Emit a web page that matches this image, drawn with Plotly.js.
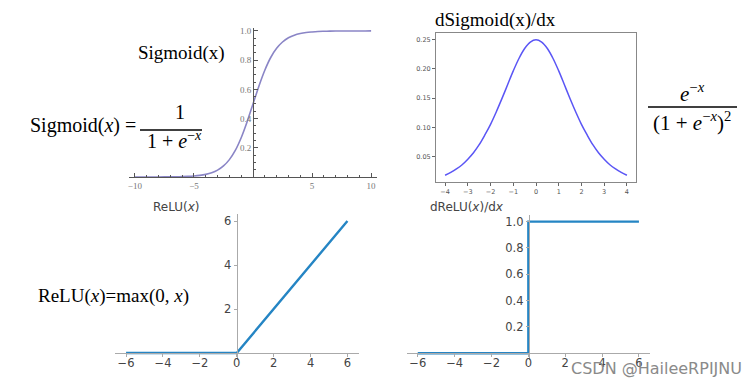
<!DOCTYPE html>
<html>
<head>
<meta charset="utf-8">
<script src="https://cdn.plot.ly/plotly-3.0.1.min.js"></script>
<style>html,body{margin:0;padding:0;background:#fff}#chart{width:756px;height:385px}</style>
</head>
<body>
<div id="chart"></div>
<script>
// Sigmoid(x) values
const sigX = [-10,-9.5,-9,-8.5,-8,-7.5,-7,-6.5,-6,-5.5,-5,-4.5,-4,-3.5,-3,-2.5,-2,-1.5,-1,-0.5,0,0.5,1,1.5,2,2.5,3,3.5,4,4.5,5,5.5,6,6.5,7,7.5,8,8.5,9,9.5,10];
const sigY = [0.00005,0.00007,0.00012,0.0002,0.00034,0.00055,0.0009,0.0015,0.0025,0.0041,0.0067,0.011,0.018,0.029,0.047,0.076,0.119,0.182,0.269,0.378,0.5,0.622,0.731,0.818,0.881,0.924,0.953,0.971,0.982,0.989,0.993,0.996,0.9975,0.9985,0.9991,0.9994,0.9997,0.9998,0.9999,0.9999,1.0];
// dSigmoid(x)/dx values
const dsigX = [-4,-3.75,-3.5,-3.25,-3,-2.75,-2.5,-2.25,-2,-1.75,-1.5,-1.25,-1,-0.75,-0.5,-0.25,0,0.25,0.5,0.75,1,1.25,1.5,1.75,2,2.25,2.5,2.75,3,3.25,3.5,3.75,4];
const dsigY = [0.0177,0.0226,0.0285,0.0357,0.0452,0.0563,0.0701,0.0868,0.105,0.1262,0.149,0.1728,0.1966,0.2179,0.235,0.2461,0.25,0.2461,0.235,0.2179,0.1966,0.1728,0.149,0.1262,0.105,0.0868,0.0701,0.0563,0.0452,0.0357,0.0285,0.0226,0.0177];
// ReLU(x)
const reluX = [-6,0,6];
const reluY = [0,0,6];
// dReLU(x)/dx
const dreluX = [-6,0,0,6];
const dreluY = [0,0,1,1];
// tick labels
const sigXTicks = [-10,-5,5,10];
const sigXText = ['\u221210','\u22125','5','10'];
const sigYTicks = [0.2,0.4,0.6,0.8,1.0];
const sigYText = ['0.2','0.4','0.6','0.8','1.0'];
const dsigXTicks = [-4,-3,-2,-1,0,1,2,3,4];
const dsigYTicks = [0.05,0.10,0.15,0.20,0.25];
const reluXTicks = [-6,-4,-2,0,2,4,6];
const reluYTicks = [2,4,6];
const dreluYTicks = [0.2,0.4,0.6,0.8,1.0];

const W = 756, H = 385;
const px = v => v / W;
const py = v => 1 - v / H;

const traces = [
  {x: sigX, y: sigY, xaxis: 'x', yaxis: 'y', mode: 'lines', line: {color: '#8a85c6', width: 1.6, shape: 'spline'}},
  {x: dsigX, y: dsigY, xaxis: 'x2', yaxis: 'y2', mode: 'lines', line: {color: '#5a55f5', width: 1.5, shape: 'spline'}},
  {x: reluX, y: reluY, xaxis: 'x3', yaxis: 'y3', mode: 'lines', line: {color: '#2585c4', width: 2.4}},
  {x: dreluX, y: dreluY, xaxis: 'x4', yaxis: 'y4', mode: 'lines', line: {color: '#2585c4', width: 2.4}}
];

const mmaFont = {family: 'Liberation Serif, serif', size: 9, color: '#777'};
const mplSmall = {family: 'DejaVu Sans, sans-serif', size: 6.5, color: '#555'};
const mplFont = {family: 'DejaVu Sans, sans-serif', size: 11.5, color: '#444'};
const serif = 'Liberation Serif, Times New Roman, serif';

const layout = {
  width: W, height: H,
  margin: {l: 0, r: 0, t: 0, b: 0},
  paper_bgcolor: '#fff', plot_bgcolor: 'rgba(0,0,0,0)',
  showlegend: false,
  xaxis: {
    domain: [px(129), px(377)], range: [-10.5, 10.5], anchor: 'y',
    showgrid: false, zeroline: false, showline: true, linecolor: '#555', linewidth: 1,
    tickmode: 'array', tickvals: sigXTicks, ticktext: sigXText,
    ticks: 'inside', ticklen: 4, tickcolor: '#555', tickfont: mmaFont,
    minor: {tickmode: 'linear', tick0: 0, dtick: 1, ticks: 'inside', ticklen: 2, tickcolor: '#555'}
  },
  yaxis: {
    domain: [py(177), py(28)], range: [0, 1.02], anchor: 'free', position: px(253),
    showgrid: false, zeroline: false, showline: true, linecolor: '#555', linewidth: 1,
    tickmode: 'array', tickvals: sigYTicks, ticktext: sigYText,
    ticks: 'inside', ticklen: 4, tickcolor: '#555', tickfont: mmaFont,
    minor: {tickmode: 'linear', tick0: 0, dtick: 0.05, ticks: 'inside', ticklen: 2, tickcolor: '#555'}
  },
  xaxis2: {
    domain: [px(436), px(636)], range: [-4.4, 4.4], anchor: 'y2',
    showgrid: false, zeroline: false, showline: true, mirror: true, linecolor: '#888', linewidth: 1,
    tickmode: 'array', tickvals: dsigXTicks, ticks: 'outside', ticklen: 3, tickcolor: '#666', tickfont: mplSmall
  },
  yaxis2: {
    domain: [py(182), py(33)], range: [0.0061, 0.2616], anchor: 'x2',
    showgrid: false, zeroline: false, showline: true, mirror: true, linecolor: '#888', linewidth: 1,
    tickmode: 'array', tickvals: dsigYTicks, tickformat: '.2f', ticks: 'outside', ticklen: 3, tickcolor: '#666', tickfont: mplSmall
  },
  xaxis3: {
    domain: [px(115), px(358.5)], range: [-6.6, 6.6], anchor: 'free', position: py(353),
    showgrid: false, zeroline: false, showline: true, linecolor: '#aaa', linewidth: 1,
    tickmode: 'array', tickvals: reluXTicks, ticks: 'outside', ticklen: 3, tickcolor: '#aaa', tickfont: mplFont,
    ticklabelstandoff: -4
  },
  yaxis3: {
    domain: [py(359.6), py(214.4)], range: [-0.3, 6.3], anchor: 'free', position: px(236.7),
    showgrid: false, zeroline: false, showline: true, linecolor: '#aaa', linewidth: 1,
    tickmode: 'array', tickvals: reluYTicks, ticks: 'outside', ticklen: 3, tickcolor: '#aaa', tickfont: mplFont
  },
  xaxis4: {
    domain: [px(406.7), px(650)], range: [-6.6, 6.6], anchor: 'free', position: py(353.3),
    showgrid: false, zeroline: false, showline: true, linecolor: '#aaa', linewidth: 1,
    tickmode: 'array', tickvals: reluXTicks, ticks: 'outside', ticklen: 3, tickcolor: '#aaa', tickfont: mplFont,
    ticklabelstandoff: -4
  },
  yaxis4: {
    domain: [py(359.9), py(215)], range: [-0.05, 1.05], anchor: 'free', position: px(528.8),
    showgrid: false, zeroline: false, showline: true, linecolor: '#aaa', linewidth: 1,
    tickmode: 'array', tickvals: dreluYTicks, tickformat: '.1f', ticks: 'outside', ticklen: 3, tickcolor: '#aaa', tickfont: mplFont
  },
  shapes: [
    {type: 'line', xref: 'paper', yref: 'paper', x0: px(140), x1: px(202), y0: py(130), y1: py(130), line: {color: '#000', width: 1.3}},
    {type: 'line', xref: 'paper', yref: 'paper', x0: px(648), x1: px(737), y0: py(107), y1: py(107), line: {color: '#000', width: 1.3}}
  ],
  annotations: [
    {text: 'Sigmoid(x)', x: px(181), y: py(53), font: {family: serif, size: 19, color: '#000'}},
    {text: 'Sigmoid(<i>x</i>) =', x: px(83), y: py(125), font: {family: serif, size: 20, color: '#000'}},
    {text: '1', x: px(180), y: py(112), font: {family: serif, size: 20, color: '#000'}},
    {text: '1 + <i>e</i><sup>\u2212<i>x</i></sup>', x: px(174), y: py(140), font: {family: serif, size: 20, color: '#000'}},
    {text: 'dSigmoid(x)/dx', x: px(495), y: py(20), font: {family: serif, size: 19, color: '#000'}},
    {text: '<i>e</i><sup>\u2212<i>x</i></sup>', x: px(692), y: py(93), font: {family: serif, size: 21, color: '#000'}},
    {text: '(1 + <i>e</i><sup>\u2212<i>x</i></sup>)<sup>2</sup>', x: px(692), y: py(121), font: {family: serif, size: 21, color: '#000'}},
    {text: 'ReLU(<i>x</i>)=max(0, <i>x</i>)', x: px(113), y: py(296), font: {family: serif, size: 19, color: '#000'}},
    {text: 'ReLU(<i>x</i>)', x: px(176), y: py(207), font: {family: 'DejaVu Sans, sans-serif', size: 12, color: '#444'}},
    {text: 'dReLU(<i>x</i>)/d<i>x</i>', x: px(466.7), y: py(207), font: {family: 'DejaVu Sans, sans-serif', size: 12, color: '#444'}},
    {text: 'CSDN @HaileeRPIJNU', x: px(656), y: py(368), font: {family: 'DejaVu Sans, sans-serif', size: 16, color: '#8a8a8a'}}
  ].map(a => Object.assign({xref: 'paper', yref: 'paper', xanchor: 'center', yanchor: 'middle', showarrow: false}, a))
};

Plotly.newPlot('chart', traces, layout, {displayModeBar: false, staticPlot: true});
</script>
</body>
</html>
